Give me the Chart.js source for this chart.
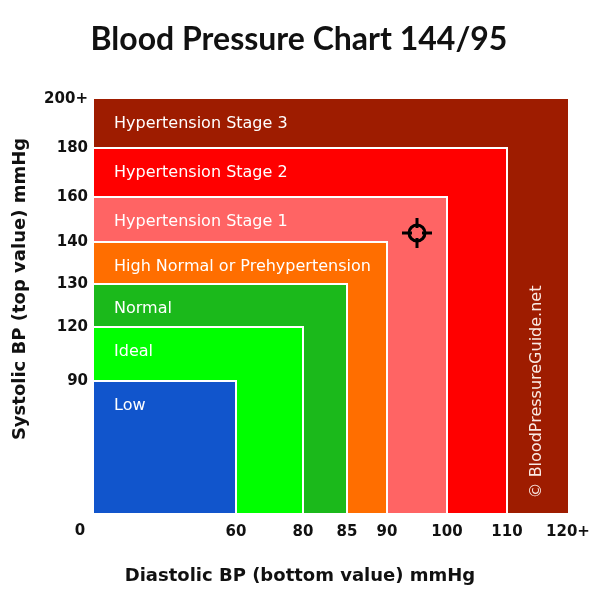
<!DOCTYPE html>
<html>
<head>
<meta charset="utf-8">
<script src="https://cdn.jsdelivr.net/npm/chart.js@4/dist/chart.umd.min.js"></script>
<style>
  body { margin: 0; background: #fff; }
  #wrap { width: 600px; height: 600px; }
</style>
</head>
<body>
<div id="wrap"><canvas id="bpChart"></canvas></div>
<script>
'use strict';

// categories, innermost first
const categories = ['Low', 'Ideal', 'Normal', 'High Normal or Prehypertension',
  'Hypertension Stage 1', 'Hypertension Stage 2', 'Hypertension Stage 3'];
// upper limits of each category (diastolic = x, systolic = y)
const diastolicLimits = [60, 80, 85, 90, 100, 110, 120];
const systolicLimits = [90, 120, 130, 140, 160, 180, 200];

// tick values and labels
const diastolicTicks = [0, 60, 80, 85, 90, 100, 110, 120];
const diastolicTickLabels = ['0', '60', '80', '85', '90', '100', '110', '120+'];
const systolicTicks = [0, 90, 120, 130, 140, 160, 180, 200];
const systolicTickLabels = ['0', '90', '120', '130', '140', '160', '180', '200+'];

// the reading being shown
const reading = { diastolic: 95, systolic: 144 };

// style: band colours, innermost first
const bandColors = ['#1155cc', '#00ff00', '#1bb91b', '#ff6e00', '#ff6464', '#ff0000', '#9e1c00'];

// layout: the axes are not evenly spaced, so each tick gets a stop (pixels along the axis)
const diastolicStops = [0, 142, 209, 253, 293, 353, 413, 474];
const systolicStops = [0, 132, 186, 229, 271, 316, 365, 414];

// piecewise linear scale, ticks placed on the given stops
class WarpScale extends Chart.LinearScale {
  determineDataLimits() {
    const b = this.options.breaks;
    this.min = b[0];
    this.max = b[b.length - 1];
  }
  buildTicks() {
    return this.options.breaks.map(function (v) { return { value: v }; });
  }
  getPixelForValue(value) {
    const b = this.options.breaks, s = this.options.stops;
    let i = 1;
    while (i < b.length - 1 && value > b[i]) i++;
    const t = (value - b[i - 1]) / (b[i] - b[i - 1]);
    const p = s[i - 1] + t * (s[i] - s[i - 1]);
    return this.getPixelForDecimal(p / s[s.length - 1]);
  }
  getValueForPixel(pixel) {
    const b = this.options.breaks, s = this.options.stops;
    const p = this.getDecimalForPixel(pixel) * s[s.length - 1];
    let i = 1;
    while (i < s.length - 1 && p > s[i]) i++;
    const t = (p - s[i - 1]) / (s[i] - s[i - 1]);
    return b[i - 1] + t * (b[i] - b[i - 1]);
  }
}
WarpScale.id = 'warp';
WarpScale.defaults = {};
Chart.register(WarpScale);

// crosshair marker used as point style
function makeMarker() {
  const c = document.createElement('canvas');
  c.width = 34; c.height = 34;
  const g = c.getContext('2d');
  g.strokeStyle = '#000';
  g.lineWidth = 3;
  g.beginPath();
  g.arc(17, 17, 8, 0, Math.PI * 2);
  g.stroke();
  g.beginPath();
  g.moveTo(2, 17); g.lineTo(12, 17);
  g.moveTo(22, 17); g.lineTo(32, 17);
  g.moveTo(17, 2); g.lineTo(17, 12);
  g.moveTo(17, 22); g.lineTo(17, 32);
  g.stroke();
  return c;
}

// title, band labels, watermark and axis titles
const textPlugin = {
  id: 'bpText',
  afterDatasetsDraw: function (chart) {
    const ctx = chart.ctx, area = chart.chartArea;
    const ys = chart.scales.y;
    ctx.save();
    ctx.fillStyle = '#fff';
    ctx.font = '16px "DejaVu Sans"';
    ctx.textBaseline = 'middle';
    ctx.textAlign = 'left';
    for (let i = 0; i < categories.length; i++) {
      const top = ys.getPixelForValue(systolicLimits[i]);
      ctx.fillText(categories[i], area.left + 20, top + 25);
    }
    // watermark
    ctx.save();
    ctx.translate(537, 392);
    ctx.rotate(-Math.PI / 2);
    ctx.textAlign = 'center';
    ctx.fillStyle = 'rgba(255,245,240,0.95)';
    ctx.fillText('\u00a9 BloodPressureGuide.net', 0, 0);
    ctx.restore();

    ctx.fillStyle = '#111';
    ctx.textAlign = 'center';
    ctx.font = 'bold 32px Lato';
    ctx.fillText('Blood Pressure Chart 144/95', 299, 40);

    ctx.font = 'bold 18px "DejaVu Sans"';
    ctx.fillText('Diastolic BP (bottom value) mmHg', 300, 576);
    ctx.save();
    ctx.translate(20, 289);
    ctx.rotate(-Math.PI / 2);
    ctx.fillText('Systolic BP (top value) mmHg', 0, 0);
    ctx.restore();

    ctx.font = 'bold 15px "DejaVu Sans"';
    ctx.fillText(systolicTickLabels[0], 80, 531);
    ctx.restore();
  }
};

const datasets = [{
  type: 'line',
  label: 'Reading',
  data: [{ x: reading.diastolic, y: reading.systolic }],
  showLine: false,
  pointStyle: makeMarker(),
  pointRadius: 10,
  clip: false
}];
for (let i = 0; i < categories.length; i++) {
  datasets.push({
    label: categories[i],
    data: [
      { x: 0, y: systolicLimits[i] },
      { x: diastolicLimits[i], y: systolicLimits[i] },
      { x: diastolicLimits[i], y: 0 }
    ],
    backgroundColor: bandColors[i],
    borderColor: '#fff',
    borderWidth: i === categories.length - 1 ? 0 : 2,
    fill: 'start',
    pointRadius: 0,
    tension: 0
  });
}

const tickFont = { family: 'DejaVu Sans', size: 15, weight: 'bold' };

new Chart(document.getElementById('bpChart'), {
  type: 'line',
  data: { datasets: datasets },
  options: {
    responsive: true,
    maintainAspectRatio: false,
    animation: false,
    layout: { padding: { left: 0, right: 32, top: 99, bottom: 0 } },
    plugins: {
      legend: { display: false },
      tooltip: { enabled: false },
      title: { display: false }
    },
    scales: {
      x: {
        type: 'warp',
        breaks: diastolicTicks,
        stops: diastolicStops,
        grid: { display: false, drawTicks: false },
        border: { display: false },
        ticks: {
          autoSkip: false,
          maxRotation: 0,
          padding: 10,
          color: '#111',
          font: tickFont,
          callback: function (v, i) { return i === 0 ? '' : diastolicTickLabels[i]; }
        },
        afterFit: function (scale) { scale.height = 87; }
      },
      y: {
        type: 'warp',
        breaks: systolicTicks,
        stops: systolicStops,
        grid: { display: false, drawTicks: false },
        border: { display: false },
        ticks: {
          autoSkip: false,
          padding: 6,
          color: '#111',
          font: tickFont,
          callback: function (v, i) { return i === 0 ? '' : systolicTickLabels[i]; }
        },
        afterFit: function (scale) { scale.width = 94; }
      }
    }
  },
  plugins: [textPlugin]
});
</script>
</body>
</html>
